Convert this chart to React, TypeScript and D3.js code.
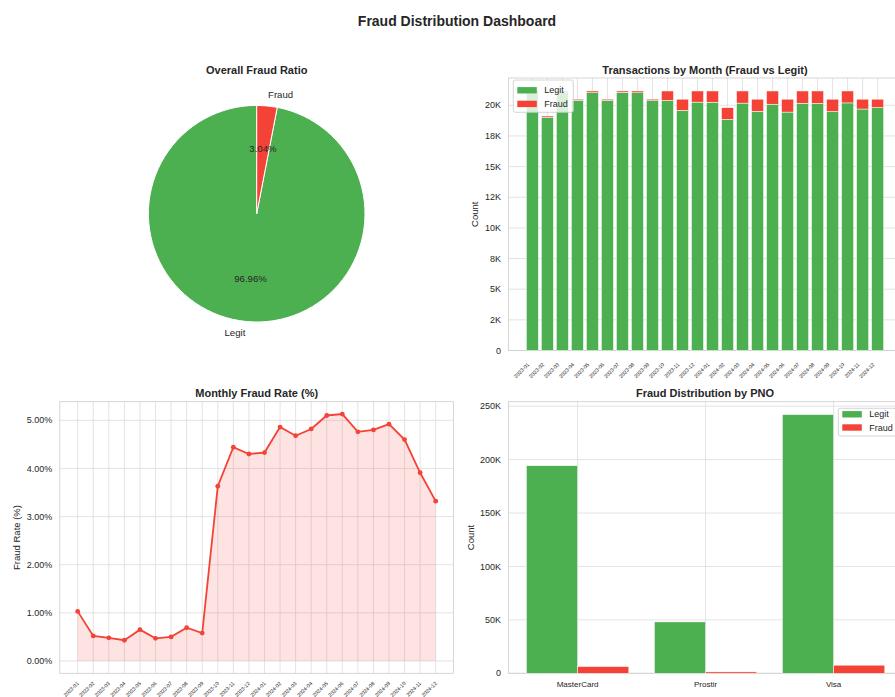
import React from "react";
import * as d3 from "d3";

// ---------- DATA ----------
const pieLabels = ["Legit", "Fraud"];
const pieValues = [96.96, 3.04];

const months = [
  "2023-01", "2023-02", "2023-03", "2023-04", "2023-05", "2023-06",
  "2023-07", "2023-08", "2023-09", "2023-10", "2023-11", "2023-12",
  "2024-01", "2024-02", "2024-03", "2024-04", "2024-05", "2024-06",
  "2024-07", "2024-08", "2024-09", "2024-10", "2024-11", "2024-12",
];
const legitCounts = [
  20952, 19031, 21068, 20412, 21032, 20404, 21064, 21024, 20381, 20402, 19590, 20260,
  20253, 18847, 20179, 19512, 20090, 19448, 20162, 20154, 19491, 20196, 19698, 19819,
];
const fraudCounts = [
  218, 99, 102, 88, 138, 96, 106, 146, 119, 768, 910, 910,
  917, 963, 991, 988, 1080, 1052, 1008, 1016, 1009, 974, 802, 681,
];
const fraudRate = [
  1.03, 0.52, 0.48, 0.43, 0.65, 0.47, 0.5, 0.69, 0.58, 3.63, 4.44, 4.3,
  4.33, 4.86, 4.68, 4.82, 5.1, 5.13, 4.76, 4.8, 4.92, 4.6, 3.91, 3.32,
];

const barTicks = [0, 2500, 5000, 7500, 10000, 12500, 15000, 17500, 20000];
const barTickLabels = ["0", "2K", "5K", "8K", "10K", "12K", "15K", "18K", "20K"];

const rateTicks = [0, 1, 2, 3, 4, 5];
const rateTickLabels = ["0.00%", "1.00%", "2.00%", "3.00%", "4.00%", "5.00%"];

const pnoCats = ["MasterCard", "Prostir", "Visa"];
const pnoLegit = [194300, 48100, 242100];
const pnoFraud = [6300, 1300, 7600];
const pnoTicks = [0, 50000, 100000, 150000, 200000, 250000];
const pnoTickLabels = ["0", "50K", "100K", "150K", "200K", "250K"];

// ---------- STYLE ----------
const FONT = "'Liberation Sans', Arial, Helvetica, sans-serif";
const TXT = "#262626";
const SPINE = "#cccccc";
const GRID = "#dcdcdc";
const GREEN = "#4CAF50";
const RED = "#F44336";

function Pie() {
  const cx = 256.7, cy = 213.7, r = 108.3;
  const pie = d3.pie<number>().sort(null).startAngle(0).endAngle(-2 * Math.PI);
  const arcs = pie(pieValues);
  const arc = d3.arc<d3.PieArcDatum<number>>().innerRadius(0).outerRadius(r);
  return (
    <g>
      <text x={cx} y={74} textAnchor="middle" fontSize={11} fontWeight="bold" fill={TXT}>
        Overall Fraud Ratio
      </text>
      <g transform={`translate(${cx},${cy})`}>
        {arcs.map((a, i) => (
          <path key={i} d={arc(a) || ""} fill={i === 0 ? GREEN : RED} stroke="#fff" strokeWidth={1} />
        ))}
        {arcs.map((a, i) => {
          const m = (a.startAngle + a.endAngle) / 2;
          const lx = Math.sin(m) * r * 1.1, ly = -Math.cos(m) * r * 1.1;
          const px = Math.sin(m) * r * 0.6, py = -Math.cos(m) * r * 0.6;
          return (
            <g key={"l" + i}>
              <text x={lx} y={ly} dy="0.35em" textAnchor={lx > 0 ? "start" : "end"} fontSize={9.6} fill={TXT}>
                {pieLabels[i]}
              </text>
              <text x={px} y={py} dy="0.35em" textAnchor="middle" fontSize={9.6} fill={TXT}>
                {pieValues[i].toFixed(2) + "%"}
              </text>
            </g>
          );
        })}
      </g>
    </g>
  );
}

function Legend({ x, y, w, h, rows }: { x: number; y: number; w: number; h: number; rows: number[] }) {
  return (
    <g>
      <rect x={x} y={y} width={w} height={h} rx={2} fill="#fff" fillOpacity={0.8} stroke={SPINE} strokeWidth={0.8} />
      {["Legit", "Fraud"].map((t, i) => (
        <g key={t}>
          <rect x={x + 4} y={rows[i] - 3.2} width={19.5} height={6.4} fill={i === 0 ? GREEN : RED} />
          <text x={x + 31} y={rows[i]} dy="0.35em" fontSize={9} fill={TXT}>{t}</text>
        </g>
      ))}
    </g>
  );
}

function MonthBars() {
  const n = months.length;
  const L = 508.5, T = 78, B = 350.5;
  const x = d3.scaleLinear().domain([-0.4 - 0.05 * (n - 0.2), n - 0.6 + 0.05 * (n - 0.2)]).range([L, L + 393]);
  const totals = legitCounts.map((v, i) => v + fraudCounts[i]);
  const y = d3.scaleLinear().domain([0, (d3.max(totals) as number) * 1.05]).range([B, T]);
  const bw = x(0.8) - x(0);
  return (
    <g>
      <text x={(x.range()[0] + x.range()[1]) / 2} y={74} textAnchor="middle" fontSize={11} fontWeight="bold" fill={TXT}>
        Transactions by Month (Fraud vs Legit)
      </text>
      {months.map((m, i) => (
        <line key={"gx" + i} x1={x(i)} x2={x(i)} y1={T} y2={B} stroke={GRID} strokeWidth={0.8} />
      ))}
      {barTicks.map((t) => (
        <line key={"gy" + t} x1={L} x2={900} y1={y(t)} y2={y(t)} stroke={GRID} strokeWidth={0.8} />
      ))}
      <rect x={L} y={T} width={x.range()[1] - L} height={B - T} fill="none" stroke={SPINE} strokeWidth={0.8} />
      {months.map((m, i) => (
        <g key={"b" + i}>
          <rect x={x(i) - bw / 2} y={y(legitCounts[i])} width={bw} height={B - y(legitCounts[i])} fill={GREEN} stroke="#fff" strokeWidth={0.5} />
          <rect x={x(i) - bw / 2} y={y(totals[i])} width={bw} height={y(legitCounts[i]) - y(totals[i])} fill={RED} stroke="#fff" strokeWidth={0.5} />
        </g>
      ))}
      {barTicks.map((t, i) => (
        <text key={"yt" + t} x={L - 7.5} y={y(t)} dy="0.35em" textAnchor="end" fontSize={9} fill={TXT}>
          {barTickLabels[i]}
        </text>
      ))}
      {months.map((m, i) => (
        <text key={"xt" + i} transform={`translate(${x(i) - 2.8},${B + 14.5}) rotate(-45)`} textAnchor="end" fontSize={5.2} fill={TXT}>
          {m}
        </text>
      ))}
      <text transform={`translate(475,${(T + B) / 2}) rotate(-90)`} dy="0.35em" textAnchor="middle" fontSize={9.5} fill={TXT}>
        Count
      </text>
      <Legend x={513.3} y={80} w={60} h={32.3} rows={[90.3, 103.9]} />
    </g>
  );
}

function RateLine() {
  const n = months.length;
  const L = 59.8, R = 453.6, T = 401.7, B = 673.3;
  const x = d3.scaleLinear().domain([-0.05 * (n - 1), n - 1 + 0.05 * (n - 1)]).range([L, R]);
  const ymax = d3.max(fraudRate) as number;
  const y = d3.scaleLinear().domain([-0.05 * ymax, ymax * 1.05]).range([B, T]);
  const line = d3.line<number>().x((_, i) => x(i)).y((d) => y(d));
  const area = d3.area<number>().x((_, i) => x(i)).y0(y(0)).y1((d) => y(d));
  return (
    <g>
      <text x={(L + R) / 2} y={397} textAnchor="middle" fontSize={11} fontWeight="bold" fill={TXT}>
        Monthly Fraud Rate (%)
      </text>
      {months.map((m, i) => (
        <line key={"gx" + i} x1={x(i)} x2={x(i)} y1={T} y2={B} stroke={GRID} strokeWidth={0.8} />
      ))}
      {rateTicks.map((t) => (
        <line key={"gy" + t} x1={L} x2={R} y1={y(t)} y2={y(t)} stroke={GRID} strokeWidth={0.8} />
      ))}
      <rect x={L} y={T} width={R - L} height={B - T} fill="none" stroke={SPINE} strokeWidth={0.8} />
      <path d={area(fraudRate) || ""} fill={RED} fillOpacity={0.15} />
      <path d={line(fraudRate) || ""} fill="none" stroke={RED} strokeWidth={1.8} />
      {fraudRate.map((v, i) => (
        <circle key={"p" + i} cx={x(i)} cy={y(v)} r={2.4} fill={RED} />
      ))}
      {rateTicks.map((t, i) => (
        <text key={"yt" + t} x={L - 7.5} y={y(t)} dy="0.35em" textAnchor="end" fontSize={9} fill={TXT}>
          {rateTickLabels[i]}
        </text>
      ))}
      {months.map((m, i) => (
        <text key={"xt" + i} transform={`translate(${x(i) + 1.5},${B + 10.5}) rotate(-45)`} textAnchor="end" fontSize={5.2} fill={TXT}>
          {m}
        </text>
      ))}
      <text transform={`translate(17,${(T + B) / 2}) rotate(-90)`} dy="0.35em" textAnchor="middle" fontSize={9.5} fill={TXT}>
        Fraud Rate (%)
      </text>
    </g>
  );
}

function PnoBars() {
  const n = pnoCats.length;
  const L = 508.5, T = 401.7, B = 673.3;
  const bw = 0.4;
  const x = d3.scaleLinear().domain([-bw - 0.05 * (n - 1 + 2 * bw), n - 1 + bw + 0.05 * (n - 1 + 2 * bw)]).range([L, L + 394.2]);
  const y = d3.scaleLinear().domain([0, (d3.max(pnoLegit) as number) * 1.05]).range([B, T]);
  const w = x(bw) - x(0);
  return (
    <g>
      <text x={705} y={397} textAnchor="middle" fontSize={11} fontWeight="bold" fill={TXT}>
        Fraud Distribution by PNO
      </text>
      {pnoCats.map((c, i) => (
        <line key={"gx" + i} x1={x(i)} x2={x(i)} y1={T} y2={B} stroke={GRID} strokeWidth={0.8} />
      ))}
      {pnoTicks.map((t) => (
        <line key={"gy" + t} x1={L} x2={905} y1={y(t)} y2={y(t)} stroke={GRID} strokeWidth={0.8} />
      ))}
      <rect x={L} y={T} width={x.range()[1] - L} height={B - T} fill="none" stroke={SPINE} strokeWidth={0.8} />
      {pnoCats.map((c, i) => (
        <g key={"b" + i}>
          <rect x={x(i) - w} y={y(pnoLegit[i])} width={w} height={B - y(pnoLegit[i])} fill={GREEN} stroke="#fff" strokeWidth={0.5} />
          <rect x={x(i)} y={y(pnoFraud[i])} width={w} height={B - y(pnoFraud[i])} fill={RED} stroke="#fff" strokeWidth={0.5} />
        </g>
      ))}
      {pnoTicks.map((t, i) => (
        <text key={"yt" + t} x={L - 7.5} y={y(t)} dy="0.35em" textAnchor="end" fontSize={9} fill={TXT}>
          {pnoTickLabels[i]}
        </text>
      ))}
      {pnoCats.map((c, i) => (
        <text key={"xt" + i} x={x(i)} y={686.5} textAnchor="middle" fontSize={8} fill={TXT}>
          {c}
        </text>
      ))}
      <text transform={`translate(470.5,${(T + B) / 2}) rotate(-90)`} dy="0.35em" textAnchor="middle" fontSize={9.5} fill={TXT}>
        Count
      </text>
      <Legend x={838.3} y={408.3} w={60} h={27.7} rows={[414.3, 427.5]} />
    </g>
  );
}

export default function App() {
  return (
    <div style={{ position: "absolute", left: 0, top: 0, width: 895, height: 697, overflow: "hidden", background: "#fff" }}>
      <svg width={895} height={697} style={{ display: "block", fontFamily: FONT }}>
        <rect width={895} height={697} fill="#fff" />
        <text x={457} y={26} textAnchor="middle" fontSize={14} fontWeight="bold" fill={TXT}>
          Fraud Distribution Dashboard
        </text>
        <Pie />
        <MonthBars />
        <RateLine />
        <PnoBars />
      </svg>
    </div>
  );
}
